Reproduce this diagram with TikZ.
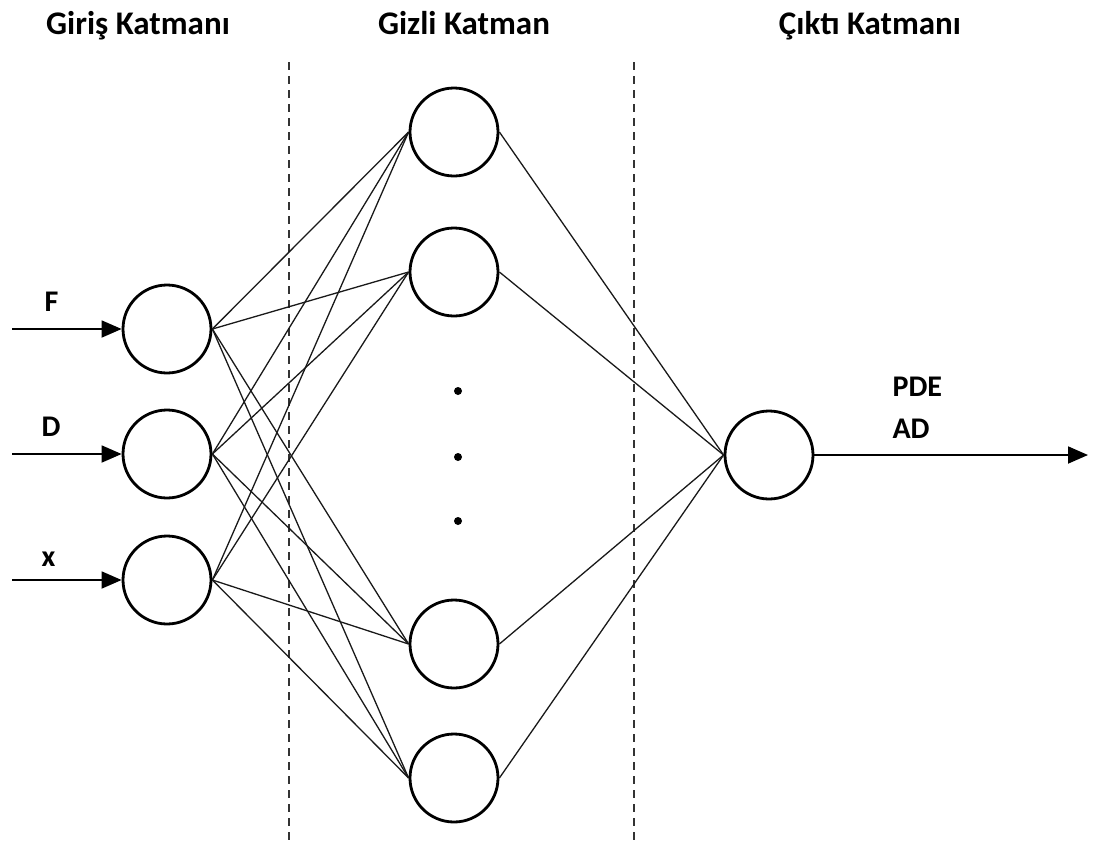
\documentclass[tikz,border=0pt]{standalone}
\usepackage{fontspec}
\setmainfont{Carlito}
\usetikzlibrary{arrows.meta}
\tikzset{
  neuron/.style={circle,draw=black,line width=2.8pt,minimum size=88pt,inner sep=0pt},
  conn/.style={line width=1.3pt,draw=black!90},
  sep/.style={line width=1.6pt,dash pattern=on 8pt off 6pt,draw=black!80},
  io/.style={line width=1.8pt,-{Triangle[length=20pt,width=17pt]}},
  title/.style={font=\bfseries\fontsize{33}{38}\selectfont,anchor=base},
  lbl/.style={font=\bfseries\fontsize{30}{35}\selectfont,anchor=base west},
  dot/.style={circle,fill=black,inner sep=0pt,minimum size=8pt}
}
\begin{document}
\begin{tikzpicture}[x=1pt,y=-1pt]
\useasboundingbox (0,0) rectangle (1098,847);
% separators
\coordinate (s1t) at (289,62); \coordinate (s1b) at (289,845);
\coordinate (s2t) at (634,62); \coordinate (s2b) at (634,845);
\draw[sep] (s1t) -- (s1b);
\draw[sep] (s2t) -- (s2b);
% titles
\node[title] (t1) at (138,34) {Giriş Katmanı};
\node[title] (t2) at (464,34) {Gizli Katman};
\node[title] (t3) at (870,34) {Çıktı Katmanı};
% neurons
\node[neuron] (i1) at (167,329) {};
\node[neuron] (i2) at (167,454) {};
\node[neuron] (i3) at (167,580) {};
\node[neuron] (h1) at (454,132) {};
\node[neuron] (h2) at (454,272) {};
\node[neuron] (h3) at (454,644) {};
\node[neuron] (h4) at (454,778) {};
\node[neuron] (o) at (769,455) {};
% connectors
\foreach \i in {i1,i2,i3}{
  \foreach \h in {h1,h2,h3,h4}{
    \draw[conn] (\i.east) -- (\h.west);
  }
}
\foreach \h in {h1,h2,h3,h4}{
  \draw[conn] (\h.east) -- (o.west);
}
% dots
\node[dot] (d1) at (458,391) {};
\node[dot] (d2) at (458,457) {};
\node[dot] (d3) at (458,521) {};
% inputs
\coordinate (a1) at (12,329);
\coordinate (a2) at (12,454);
\coordinate (a3) at (12,580);
\draw[io] (a1) -- (i1.west);
\draw[io] (a2) -- (i2.west);
\draw[io] (a3) -- (i3.west);
\node[lbl] (lF) at (41,311) {F};
\node[lbl] (lD) at (38,436) {D};
\node[lbl] (lx) at (38,566) {x};
% output
\coordinate (oe) at (1088,455);
\draw[io] (o.east) -- (oe);
\node[lbl] (lP) at (889,396) {PDE};
\node[lbl] (lA) at (889,438) {AD};
\end{tikzpicture}
\end{document}
